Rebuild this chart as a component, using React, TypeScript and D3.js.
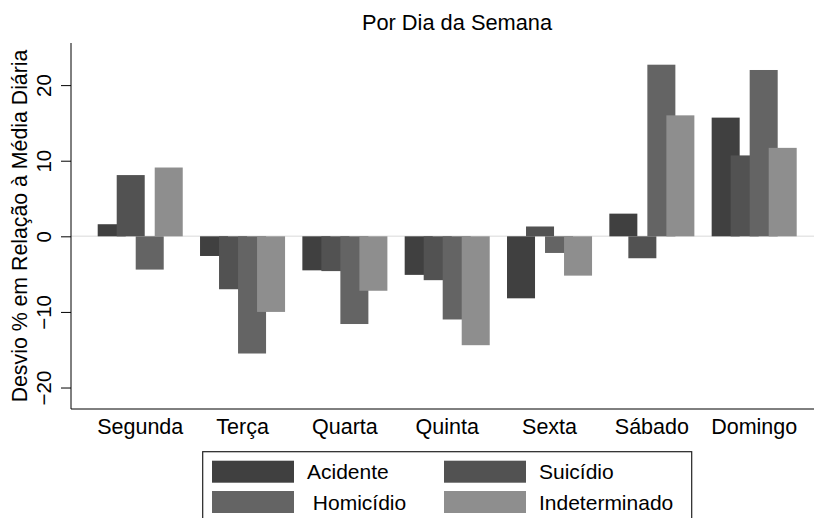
import React, { useEffect, useRef } from "react";
import * as d3 from "d3";

const days = ["Segunda", "Terça", "Quarta", "Quinta", "Sexta", "Sábado", "Domingo"];
const series = ["Acidente", "Suicídio", "Homicídio", "Indeterminado"];
const legendLabels = ["Acidente", "Suicídio", " Homicídio", "Indeterminado"];

// desvio % por dia, uma lista por tipo
const acidente = [1.6, -2.6, -4.5, -5.1, -8.2, 3.0, 15.7];
const suicidio = [8.1, -7.0, -4.6, -5.8, 1.3, -2.9, 10.7];
const homicidio = [-4.4, -15.5, -11.6, -11.0, -2.2, 22.7, 22.0];
const indeterminado = [9.1, -10.0, -7.2, -14.4, -5.2, 16.0, 11.7];

const yTicks = [-20, -10, 0, 10, 20];
const colors = ["#404040", "#525252", "#646464", "#8e8e8e"];

const App = () => {
  const ref = useRef<SVGSVGElement>(null);

  useEffect(() => {
    document.body.style.margin = "0";
    const font = "'Liberation Sans', Arial, Helvetica, sans-serif";
    const plot = { left: 71, right: 814, top: 43, bottom: 409 };

    const svg = d3.select(ref.current);
    svg.selectAll("*").remove();

    const x = d3
      .scaleBand()
      .domain(days)
      .range([97.7, 796.7])
      .paddingInner(0.169)
      .paddingOuter(0);

    const y = d3
      .scaleLinear()
      .domain([-22.84, 25.57])
      .range([plot.bottom, plot.top]);

    const barW = x.bandwidth() * (28 / 85);
    const offset = (x.bandwidth() - barW) / 3;

    // linha do zero
    svg
      .append("line")
      .attr("x1", plot.left)
      .attr("x2", plot.right)
      .attr("y1", y(0))
      .attr("y2", y(0))
      .attr("stroke", "#e6e6e6")
      .attr("stroke-width", 1.5);

    const allSeries = [acidente, suicidio, homicidio, indeterminado];
    allSeries.forEach((vals, si) => {
      svg
        .append("g")
        .selectAll("rect")
        .data(vals)
        .join("rect")
        .attr("x", (d, i) => x(days[i])! + si * offset)
        .attr("width", barW)
        .attr("y", (d) => y(Math.max(0, d)))
        .attr("height", (d) => Math.abs(y(d) - y(0)))
        .attr("fill", colors[si]);
    });

    // eixo y
    const gy = svg
      .append("g")
      .attr("transform", `translate(${plot.left},0)`)
      .call(
        d3
          .axisLeft(y)
          .tickValues(yTicks)
          .tickSize(10)
          .tickSizeOuter(0)
          .tickFormat((d) => d3.format("")(d as number).replace("-", "\u2212"))
      );
    gy.select(".domain").attr("d", `M0,${plot.top}V${plot.bottom}`).attr("stroke", "#000");
    gy.selectAll(".tick line").attr("stroke", "#000");
    gy.selectAll(".tick text")
      .attr("transform", "rotate(-90)")
      .attr("x", 0)
      .attr("y", -20)
      .attr("dy", 0)
      .attr("text-anchor", "middle")
      .attr("font-family", font)
      .attr("font-size", 20.5)
      .attr("fill", "#000");

    // eixo x
    const gx = svg
      .append("g")
      .attr("transform", `translate(0,${plot.bottom})`)
      .call(d3.axisBottom(x).tickSize(0).tickSizeOuter(0));
    gx.select(".domain").attr("d", `M${plot.left},0H${plot.right}`).attr("stroke", "#000");
    gx.selectAll(".tick text")
      .attr("y", 24.5)
      .attr("dy", 0)
      .attr("font-family", font)
      .attr("font-size", 21.5)
      .attr("fill", "#000");

    // títulos
    svg
      .append("text")
      .attr("x", 457)
      .attr("y", 30)
      .attr("text-anchor", "middle")
      .attr("font-family", font)
      .attr("font-size", 21.8)
      .text("Por Dia da Semana");

    svg
      .append("text")
      .attr("transform", `translate(27,${(plot.top + plot.bottom) / 2}) rotate(-90)`)
      .attr("text-anchor", "middle")
      .attr("font-family", font)
      .attr("font-size", 21.3)
      .text("Desvio % em Relação à Média Diária");

    // legenda
    const lg = svg.append("g");
    lg.append("rect")
      .attr("x", 202.7)
      .attr("y", 451.7)
      .attr("width", 489)
      .attr("height", 80)
      .attr("fill", "#fff")
      .attr("stroke", "#222")
      .attr("stroke-width", 1.2);

    series.forEach((s, i) => {
      const col = i % 2;
      const row = Math.floor(i / 2);
      const sx = 212 + col * 232;
      const sy = 460.7 + row * 30.3;
      lg.append("rect")
        .attr("x", sx)
        .attr("y", sy)
        .attr("width", 82)
        .attr("height", 22)
        .attr("fill", colors[i]);
      lg.append("text")
        .attr("x", sx + 95)
        .attr("y", sy + 18.5)
        .attr("font-family", font)
        .attr("font-size", 21)
        .style("white-space", "pre")
        .text(legendLabels[i]);
    });
  }, []);

  return (
    <div id="app">
      <svg ref={ref} width={814} height={518} style={{ display: "block" }}></svg>
    </div>
  );
};

export default App;
